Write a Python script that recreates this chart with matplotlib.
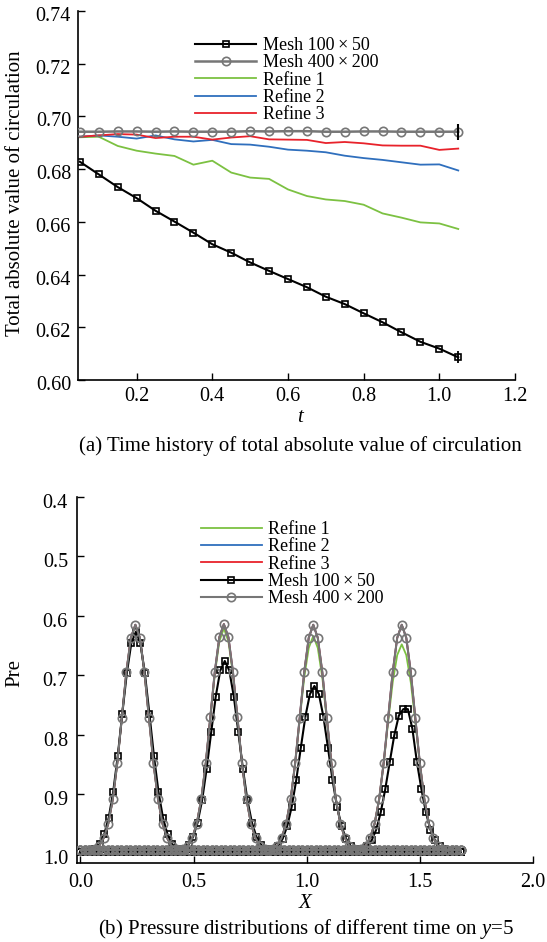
import numpy as np
import matplotlib
matplotlib.use("Agg")
import matplotlib.pyplot as plt
from matplotlib.transforms import ScaledTranslation

plt.rcParams['font.family'] = ['Liberation Serif', 'DejaVu Serif']
plt.rcParams['mathtext.fontset'] = 'custom'
plt.rcParams['mathtext.rm'] = 'Liberation Serif'
plt.rcParams['mathtext.it'] = 'Liberation Serif:italic'

# ---------------- data: (a) circulation history ----------------
t_vals = [0.05, 0.10, 0.15, 0.20, 0.25, 0.30, 0.35, 0.40, 0.45, 0.50, 0.55,
          0.60, 0.65, 0.70, 0.75, 0.80, 0.85, 0.90, 0.95, 1.00, 1.05]
circ_mesh100 = [0.6828, 0.6780, 0.6732, 0.6690, 0.6642, 0.6601, 0.6559, 0.6515, 0.6483, 0.6446, 0.6414,
                0.6383, 0.6352, 0.6316, 0.6288, 0.6253, 0.6219, 0.6181, 0.6145, 0.6119, 0.6086]
circ_mesh400 = [0.6942, 0.6942, 0.6943, 0.6943, 0.6942, 0.6943, 0.6942, 0.6942, 0.6942, 0.6944, 0.6943,
                0.6944, 0.6944, 0.6942, 0.6942, 0.6943, 0.6943, 0.6942, 0.6942, 0.6942, 0.6942]
circ_refine1 = [0.6921, 0.6923, 0.6888, 0.6870, 0.6859, 0.6850, 0.6817, 0.6832, 0.6787, 0.6768, 0.6763,
                0.6723, 0.6698, 0.6685, 0.6679, 0.6665, 0.6632, 0.6616, 0.6598, 0.6594, 0.6573]
circ_refine2 = [0.6923, 0.6928, 0.6923, 0.6916, 0.6928, 0.6913, 0.6905, 0.6911, 0.6895, 0.6893, 0.6885,
                0.6874, 0.6870, 0.6864, 0.6851, 0.6842, 0.6835, 0.6826, 0.6817, 0.6818, 0.6795]
circ_refine3 = [0.6923, 0.6928, 0.6933, 0.6931, 0.6918, 0.6923, 0.6923, 0.6912, 0.6920, 0.6925, 0.6913,
                0.6912, 0.6911, 0.6899, 0.6903, 0.6898, 0.6890, 0.6889, 0.6889, 0.6873, 0.6878]
a_xticks = [0.2, 0.4, 0.6, 0.8, 1.0, 1.2]
a_yticks = [0.60, 0.62, 0.64, 0.66, 0.68, 0.70, 0.72, 0.74]

# ---------------- data: (b) pressure on y=5 ----------------
x_grid = [round(0.02 * i, 2) for i in range(85)]          # 0.00 ... 1.68
peak_offsets = [-0.20, -0.18, -0.16, -0.14, -0.12, -0.10, -0.08, -0.06, -0.04, -0.02, 0.00,
                0.02, 0.04, 0.06, 0.08, 0.10, 0.12, 0.14, 0.16, 0.18, 0.20]
peak_centers_fine = [0.243, 0.634, 1.029, 1.420]
peak_centers_mesh100 = [0.245, 0.638, 1.034, 1.427]
base_fine = 0.994
base_mesh100 = 0.997

pre_fine = [
    [0.994, 0.992, 0.987, 0.974, 0.950, 0.909, 0.848, 0.772, 0.695, 0.637, 0.615, 0.637, 0.695, 0.772, 0.848, 0.909, 0.950, 0.974, 0.987, 0.992, 0.994],
    [0.994, 0.992, 0.987, 0.974, 0.950, 0.909, 0.848, 0.771, 0.694, 0.636, 0.614, 0.636, 0.694, 0.771, 0.848, 0.909, 0.950, 0.974, 0.987, 0.992, 0.994],
    [0.994, 0.992, 0.987, 0.974, 0.950, 0.909, 0.848, 0.772, 0.695, 0.637, 0.615, 0.637, 0.695, 0.772, 0.848, 0.909, 0.950, 0.974, 0.987, 0.992, 0.994],
    [0.994, 0.992, 0.987, 0.974, 0.950, 0.909, 0.848, 0.772, 0.695, 0.637, 0.615, 0.637, 0.695, 0.772, 0.848, 0.909, 0.950, 0.974, 0.987, 0.992, 0.994],
]
pre_refine1 = [
    [0.994, 0.992, 0.987, 0.974, 0.950, 0.909, 0.848, 0.772, 0.696, 0.638, 0.616, 0.638, 0.696, 0.772, 0.848, 0.909, 0.950, 0.974, 0.987, 0.992, 0.994],
    [0.994, 0.992, 0.987, 0.974, 0.950, 0.909, 0.848, 0.773, 0.698, 0.643, 0.621, 0.643, 0.698, 0.773, 0.848, 0.909, 0.950, 0.974, 0.987, 0.992, 0.994],
    [0.994, 0.992, 0.987, 0.974, 0.950, 0.909, 0.848, 0.775, 0.704, 0.654, 0.634, 0.654, 0.704, 0.775, 0.848, 0.909, 0.950, 0.974, 0.987, 0.992, 0.994],
    [0.994, 0.992, 0.987, 0.974, 0.950, 0.909, 0.849, 0.778, 0.712, 0.666, 0.648, 0.666, 0.712, 0.778, 0.849, 0.909, 0.950, 0.974, 0.987, 0.992, 0.994],
]
pre_refine2 = pre_fine
pre_refine3 = pre_fine
pre_mesh100 = [
    [0.995, 0.992, 0.984, 0.968, 0.940, 0.896, 0.836, 0.765, 0.697, 0.646, 0.627, 0.646, 0.697, 0.765, 0.836, 0.896, 0.940, 0.968, 0.984, 0.992, 0.995],
    [0.995, 0.992, 0.985, 0.972, 0.948, 0.910, 0.857, 0.796, 0.736, 0.692, 0.676, 0.692, 0.736, 0.796, 0.857, 0.910, 0.948, 0.972, 0.985, 0.992, 0.995],
    [0.995, 0.993, 0.987, 0.975, 0.954, 0.921, 0.876, 0.822, 0.770, 0.732, 0.718, 0.732, 0.770, 0.822, 0.876, 0.921, 0.954, 0.975, 0.987, 0.993, 0.995],
    [0.995, 0.993, 0.988, 0.978, 0.960, 0.931, 0.892, 0.846, 0.801, 0.768, 0.757, 0.757, 0.790, 0.846, 0.892, 0.931, 0.960, 0.978, 0.988, 0.993, 0.995],
]
b_xticks = [0.0, 0.5, 1.0, 1.5, 2.0]
b_yticks = [0.4, 0.5, 0.6, 0.7, 0.8, 0.9, 1.0]

C_GREEN = '#7cc142'
C_BLUE = '#2f6fbd'
C_RED = '#e8222b'
C_GRAY = '#767676'
C_BLACK = '#000000'

LBL_100 = 'Mesh 100\u2009\u00d7\u200950'
LBL_400 = 'Mesh 400\u2009\u00d7\u2009200'

W, H = 547, 942
fig = plt.figure(figsize=(W / 100, H / 100), dpi=100)


def px_axes(l, r, t, b):
    return fig.add_axes([l / W, 1 - b / H, (r - l) / W, (b - t) / H])


def style_axes(ax):
    for s in ['top', 'right']:
        ax.spines[s].set_visible(False)
    for s in ['left', 'bottom']:
        ax.spines[s].set_linewidth(1.2)
    ax.tick_params(direction='in', length=5, width=1.0, labelsize=14.5, pad=5)


def shift_ylabels(ax, dy_px):
    off = ScaledTranslation(0, -dy_px / 100, fig.dpi_scale_trans)
    for lab in ax.get_yticklabels():
        lab.set_transform(lab.get_transform() + off)


fs_leg = 13
leg_kw = dict(bbox_transform=fig.transFigure, loc='upper left', frameon=False, borderpad=0,
              borderaxespad=0, fontsize=fs_leg, handlelength=61 / (fs_leg * 100 / 72),
              handletextpad=0.37, labelspacing=0.02)

# ---------------- panel (a) ----------------
ax1 = px_axes(78, 515, 11, 380)
style_axes(ax1)
ax1.plot(t_vals, circ_mesh100, color=C_BLACK, lw=1.5, marker='s', ms=4,
         mfc='none', mec=C_BLACK, mew=1.2, label=LBL_100, zorder=5)
ax1.plot(t_vals, circ_mesh400, color=C_GRAY, lw=1.8, marker='o', ms=6,
         mfc='none', mec=C_GRAY, mew=1.2, label=LBL_400, zorder=4)
ax1.plot(t_vals, circ_refine1, color=C_GREEN, lw=1.3, label='Refine 1', zorder=3)
ax1.plot(t_vals, circ_refine2, color=C_BLUE, lw=1.3, label='Refine 2', zorder=3)
ax1.plot(t_vals, circ_refine3, color=C_RED, lw=1.3, label='Refine 3', zorder=3)
# end-point tick marks seen on the last samples
ax1.plot([t_vals[-1]], [circ_mesh400[-1]], marker='|', ms=12, mew=1.5, color=C_BLACK, zorder=6)
ax1.plot([t_vals[-1]], [circ_mesh100[-1]], marker='|', ms=8, mew=1.3, color=C_BLACK, zorder=6)
ax1.set_xlim(0.045, 1.2)
ax1.set_ylim(0.60, 0.74)
ax1.set_xticks(a_xticks)
ax1.set_xticklabels([f'{v:.1f}' for v in a_xticks])
ax1.set_yticks(a_yticks)
ax1.set_yticklabels([f'{v:.2f}' for v in a_yticks])
shift_ylabels(ax1, 3)
ax1.legend(bbox_to_anchor=(195 / W, 1 - 37 / H), **leg_kw)

fig.text(15.5 / W, 1 - 193 / H, 'Total absolute value of circulation', rotation=90,
         ha='center', va='center', fontsize=15)
fig.text(300 / W, 1 - 418 / H, 't', style='italic', ha='center', va='center', fontsize=15)
fig.text(300 / W, 1 - 446 / H, '(a) Time history of total absolute value of circulation',
         ha='center', va='center', fontsize=15)

# ---------------- panel (b) ----------------
ax2 = px_axes(77, 533, 497, 863)
style_axes(ax2)

xg = np.array(x_grid)
dx = np.array(peak_offsets)


def build(center, prof, base):
    left = xg[xg < center - 0.205]
    right = xg[xg > center + 0.205]
    x = np.concatenate([left, center + dx, right])
    y = np.concatenate([np.full(len(left), base), np.array(prof), np.full(len(right), base)])
    return x, y


for k in range(4):
    x, y = build(peak_centers_fine[k], pre_refine1[k], base_fine)
    ax2.plot(x, y, color=C_GREEN, lw=1.3, zorder=2, label='Refine 1' if k == 0 else None)
for k in range(4):
    x, y = build(peak_centers_fine[k], pre_refine2[k], base_fine)
    ax2.plot(x, y, color=C_BLUE, lw=1.3, zorder=2, label='Refine 2' if k == 0 else None)
for k in range(4):
    x, y = build(peak_centers_fine[k], pre_refine3[k], base_fine)
    ax2.plot(x, y, color=C_RED, lw=1.3, zorder=2, label='Refine 3' if k == 0 else None)
for k in range(4):
    x, y = build(peak_centers_mesh100[k], pre_mesh100[k], base_mesh100)
    ax2.plot(x, y, color=C_BLACK, lw=1.5, marker='s', ms=4, mfc='none', mec=C_BLACK, mew=1.2,
             zorder=3, label=LBL_100 if k == 0 else None)
for k in range(4):
    x, y = build(peak_centers_fine[k], pre_fine[k], base_fine)
    ax2.plot(x, y, color=C_GRAY, lw=1.5, marker='o', ms=6, mfc='none', mec=C_GRAY, mew=1.2,
             zorder=4, label=LBL_400 if k == 0 else None)

ax2.set_xlim(-0.015, 2.0)
ax2.set_ylim(1.016, 0.4)
ax2.set_xticks(b_xticks)
ax2.set_xticklabels([f'{v:.1f}' for v in b_xticks])
ax2.set_yticks(b_yticks)
ax2.set_yticklabels([f'{v:.1f}' for v in b_yticks])
ax2.tick_params(axis='y', pad=6.5)
ax2.tick_params(axis='x', pad=7)
shift_ylabels(ax2, 4)
ax2.legend(bbox_to_anchor=(200.5 / W, 1 - 521 / H), **leg_kw)

fig.text(15 / W, 1 - 673 / H, 'Pre', rotation=90, ha='center', va='center', fontsize=15)
fig.text(305 / W, 1 - 904 / H, 'X', style='italic', ha='center', va='center', fontsize=15)
fig.text(306 / W, 1 - 929 / H, '(b) Pressure distributions of different time on $y$=5',
         ha='center', va='center', fontsize=15)

fig.savefig('out.png', dpi=100)
